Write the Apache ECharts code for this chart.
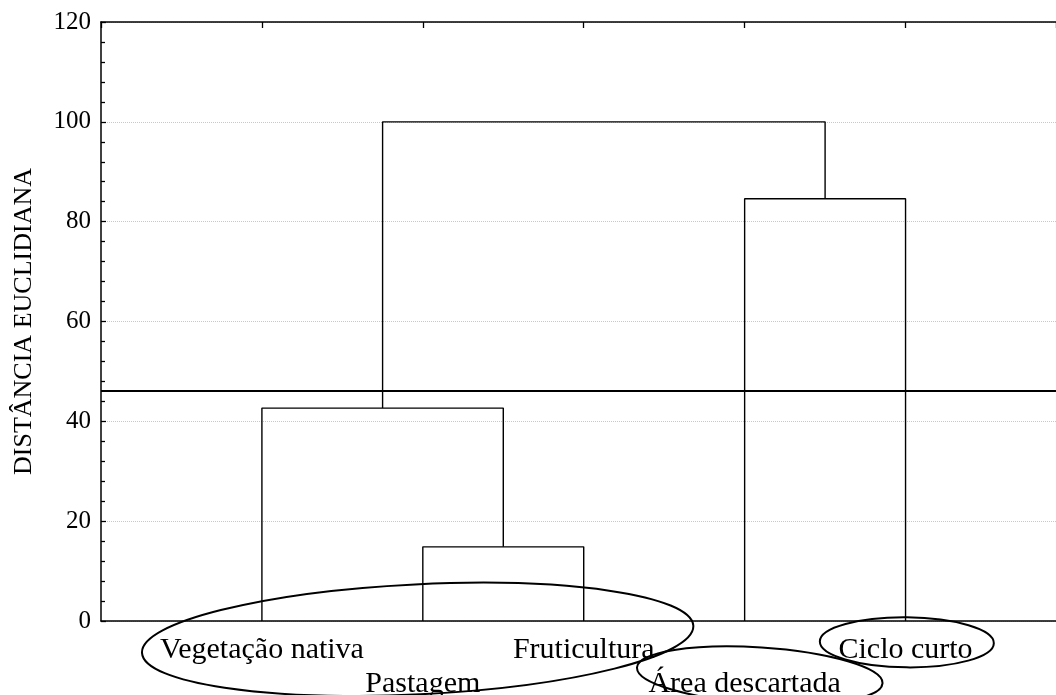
<!DOCTYPE html>
<html>
<head>
<meta charset="utf-8">
<script src="https://cdn.jsdelivr.net/npm/echarts@6/dist/echarts.min.js"></script>
<style>
  html, body { margin: 0; padding: 0; background: #fff; }
  #chart { width: 1056px; height: 695px; }
</style>
</head>
<body>
<div id="chart"></div>
<script>
// ---- data ----
const leafNames = ['Vegetação nativa', 'Pastagem', 'Fruticultura', 'Área descartada', 'Ciclo curto'];
const leafPositions = [1, 2, 3, 4, 5];
const xAxisMax = 5.935;
// merges: nodes 0-4 are leaves, node 5+k is the cluster made by merge k
const mergeLeft = [1, 0, 3, 6];
const mergeRight = [2, 5, 4, 7];
const mergeHeight = [14.85, 42.65, 84.6, 100];
const cutHeight = 46.1;
const yTickValues = [0, 20, 40, 60, 80, 100, 120];
const yAxisTitle = 'DISTÂNCIA EUCLIDIANA';
// annotation ellipses (center in data units, radii in px)
const ellipseCenterX = [1.968, 4.094, 5.008];
const ellipseCenterY = [-3.67, -10.9, -4.28];
const ellipseRx = [276, 123, 87];
const ellipseRy = [55, 28, 25];
const ellipseTilt = [0.049, -0.065, -0.01];

// ---- build dendrogram ----
const nodeX = leafPositions.slice();
const nodeH = leafPositions.map(() => 0);
const series = [];
mergeHeight.forEach((h, k) => {
  const l = mergeLeft[k], r = mergeRight[k];
  const xl = nodeX[l], xr = nodeX[r];
  series.push({
    type: 'line',
    data: [[xl, nodeH[l]], [xl, h], [xr, h], [xr, nodeH[r]]],
    symbol: 'none',
    lineStyle: { color: '#000', width: 1.4 },
    silent: true,
    animation: false,
    z: 3
  });
  nodeX.push((xl + xr) / 2);
  nodeH.push(h);
});
series.push({
  type: 'line',
  data: [],
  markLine: {
    silent: true,
    symbol: 'none',
    animation: false,
    label: { show: false },
    lineStyle: { color: '#000', width: 2, type: 'solid' },
    data: [{ yAxis: cutHeight }]
  }
});

const serif = '"Liberation Serif", "DejaVu Serif", serif';
const chart = echarts.init(document.getElementById('chart'), null, { renderer: 'canvas' });

chart.setOption({
  backgroundColor: '#fff',
  animation: false,
  grid: { left: 101, top: 22, right: 0, bottom: 74, containLabel: false, outerBoundsMode: 'none' },
  xAxis: [
    {
      type: 'value', position: 'bottom', min: 0, max: xAxisMax, interval: 1,
      axisLine: { show: true, onZero: false, lineStyle: { color: '#000', width: 1.5 } },
      axisTick: { show: false },
      splitLine: { show: false },
      axisLabel: {
        show: true, margin: 12, color: '#000', fontFamily: serif, fontSize: 30, lineHeight: 34,
        showMaxLabel: false, hideOverlap: false,
        formatter: function (v) {
          const i = leafPositions.indexOf(v);
          if (i < 0) return '';
          return (i % 2 === 1 ? '\n' : '') + leafNames[i];
        }
      }
    },
    {
      type: 'value', position: 'top', min: 0, max: xAxisMax, interval: 1,
      axisLine: { show: true, onZero: false, lineStyle: { color: '#000', width: 1.5 } },
      axisTick: { show: true, inside: true, length: 6, lineStyle: { color: '#000', width: 1.3 } },
      axisLabel: { show: false },
      splitLine: { show: false }
    }
  ],
  yAxis: {
    type: 'value', min: yTickValues[0], max: yTickValues[yTickValues.length - 1], interval: 20,
    name: yAxisTitle, nameLocation: 'middle', nameGap: 64, nameRotate: 90,
    nameTextStyle: { color: '#000', fontFamily: serif, fontSize: 26 },
    axisLine: { show: true, onZero: false, lineStyle: { color: '#000', width: 1.5 } },
    axisTick: { show: true, inside: true, length: 5, lineStyle: { color: '#000', width: 1.3 } },
    minorTick: { show: true, splitNumber: 5, length: 4, lineStyle: { color: '#000', width: 1.3 } },
    axisLabel: { color: '#000', fontFamily: serif, fontSize: 25, margin: 10 },
    splitLine: { show: true, lineStyle: { color: '#c8c8c8', width: 1, type: [1, 1] } }
  },
  series: series
});

function drawEllipses() {
  const els = ellipseCenterX.map((cx, i) => {
    const p = chart.convertToPixel({ gridIndex: 0 }, [cx, ellipseCenterY[i]]);
    return {
      type: 'ellipse',
      x: p[0], y: p[1],
      rotation: ellipseTilt[i],
      shape: { cx: 0, cy: 0, rx: ellipseRx[i], ry: ellipseRy[i] },
      style: { fill: null, stroke: '#000', lineWidth: 2 },
      silent: true,
      z: 10
    };
  });
  chart.setOption({ graphic: els });
}
drawEllipses();
</script>
</body>
</html>
